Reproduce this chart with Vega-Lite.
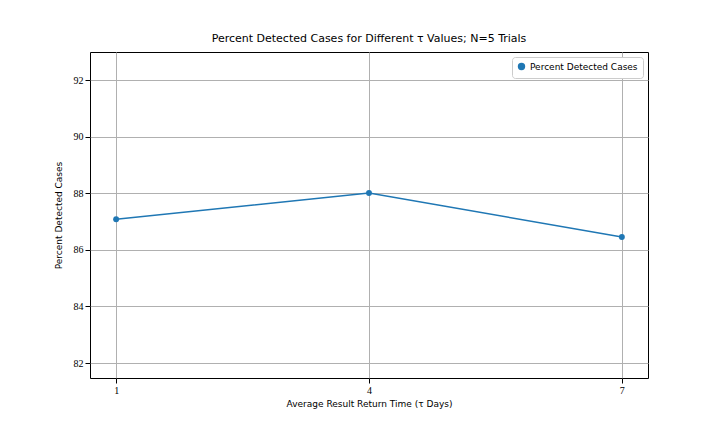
{
  "$schema": "https://vega.github.io/schema/vega-lite/v6.json",
  "autosize": "none",
  "width": 558,
  "height": 326,
  "padding": {"left": 90, "top": 52, "right": 72, "bottom": 54},
  "config": {
    "font": "DejaVu Sans",
    "view": {"stroke": "black", "strokeWidth": 1},
    "axis": {"labelFont": "Liberation Serif", "labelFontSize": 10, "titleFontSize": 9, "titleFontWeight": "normal", "labelColor": "black", "titleColor": "black", "gridColor": "#b0b0b0", "gridOpacity": 1, "domain": false, "tickColor": "black"}
  },
  "title": {"text": "Percent Detected Cases for Different τ Values; N=5 Trials", "fontSize": 11, "fontWeight": "normal", "offset": 8},
  "data": {
    "values": [
      {"tau": 1, "pct": 87.08, "series": "Percent Detected Cases"},
      {"tau": 4, "pct": 88.01, "series": "Percent Detected Cases"},
      {"tau": 7, "pct": 86.45, "series": "Percent Detected Cases"}
    ]
  },
  "mark": {"type": "line", "point": {"size": 35, "filled": true}, "strokeWidth": 1.5},
  "encoding": {
    "x": {"field": "tau", "type": "quantitative", "scale": {"domain": [0.69, 7.31], "nice": false, "zero": false},
      "axis": {"values": [1, 4, 7], "title": "Average Result Return Time (τ Days)", "format": "d"}},
    "y": {"field": "pct", "type": "quantitative", "scale": {"domain": [81.47, 92.99], "nice": false, "zero": false},
      "axis": {"values": [82, 84, 86, 88, 90, 92], "title": "Percent Detected Cases", "titlePadding": 10}},
    "color": {"field": "series", "type": "nominal", "scale": {"range": ["#1f77b4"]},
      "legend": {"title": null, "orient": "top-right", "offset": 5, "symbolType": "circle", "symbolSize": 35, "labelFontSize": 9, "strokeColor": "#cccccc", "padding": 5, "fillColor": "white", "cornerRadius": 3}}
  }
}
